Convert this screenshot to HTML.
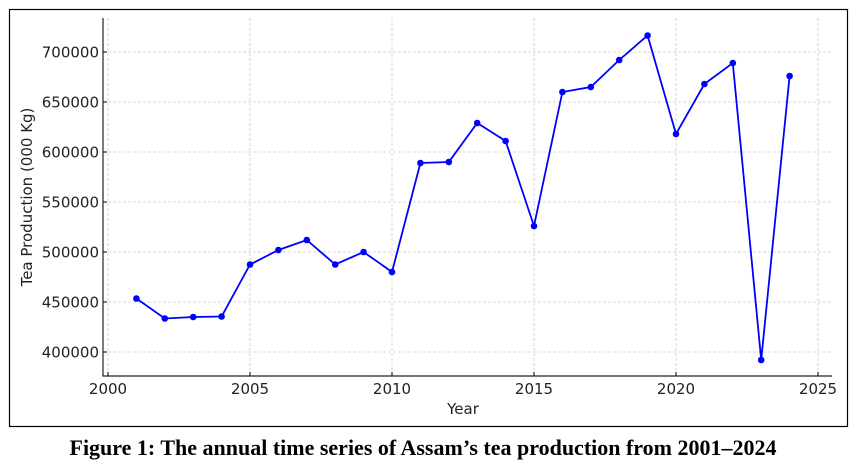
<!DOCTYPE html>
<html><head><style>body{margin:0;background:#fff;width:857px;height:468px;overflow:hidden}</style></head><body>
<svg width="857" height="468" xmlns="http://www.w3.org/2000/svg" font-family="DejaVu Sans, sans-serif">
<rect x="9.5" y="9.5" width="838" height="417" fill="none" stroke="#000" stroke-width="1.2"/>
<g stroke="#ccc" stroke-dasharray="3,2" stroke-width="0.8">
<line x1="108" y1="18" x2="108" y2="376"/><line x1="250" y1="18" x2="250" y2="376"/><line x1="392" y1="18" x2="392" y2="376"/><line x1="534" y1="18" x2="534" y2="376"/><line x1="676" y1="18" x2="676" y2="376"/><line x1="818" y1="18" x2="818" y2="376"/>
<line x1="103" y1="52" x2="832" y2="52"/><line x1="103" y1="102" x2="832" y2="102"/><line x1="103" y1="152" x2="832" y2="152"/><line x1="103" y1="202" x2="832" y2="202"/><line x1="103" y1="252" x2="832" y2="252"/><line x1="103" y1="302" x2="832" y2="302"/><line x1="103" y1="352" x2="832" y2="352"/>
</g>
<g stroke="#222" stroke-width="1.2">
<line x1="103" y1="18" x2="103" y2="376.5"/><line x1="102.5" y1="376" x2="832" y2="376"/>
<line x1="103" y1="52" x2="107" y2="52"/><line x1="103" y1="102" x2="107" y2="102"/><line x1="103" y1="152" x2="107" y2="152"/><line x1="103" y1="202" x2="107" y2="202"/><line x1="103" y1="252" x2="107" y2="252"/><line x1="103" y1="302" x2="107" y2="302"/><line x1="103" y1="352" x2="107" y2="352"/>
<line x1="108" y1="376" x2="108" y2="372"/><line x1="250" y1="376" x2="250" y2="372"/><line x1="392" y1="376" x2="392" y2="372"/><line x1="534" y1="376" x2="534" y2="372"/><line x1="676" y1="376" x2="676" y2="372"/><line x1="818" y1="376" x2="818" y2="372"/>
</g>
<g font-size="15" fill="#222" text-anchor="end">
<text x="99" y="57.5">700000</text><text x="99" y="107.5">650000</text><text x="99" y="157.5">600000</text><text x="99" y="207.5">550000</text><text x="99" y="257.5">500000</text><text x="99" y="307.5">450000</text><text x="99" y="357.5">400000</text>
</g>
<g font-size="15" fill="#222" text-anchor="middle">
<text x="108" y="394">2000</text><text x="250" y="394">2005</text><text x="392" y="394">2010</text><text x="534" y="394">2015</text><text x="676" y="394">2020</text><text x="818" y="394">2025</text>
<text x="463" y="414">Year</text>
<text transform="translate(32,197) rotate(-90)">Tea Production (000 Kg)</text>
</g>
<polyline fill="none" stroke="#0000ff" stroke-width="1.8" points="136.4,298.5 164.8,318.5 193.2,317 221.6,316.5 250,264.5 278.4,250 306.8,240 335.2,264.5 363.6,252 392,272 420.4,163 448.8,162 477.2,123 505.6,141 534,226 562.4,92 590.8,87 619.2,60 647.6,35.5 676,134 704.4,84 732.8,63 761.2,360 789.6,76"/>
<g fill="#0000ff">
<circle cx="136.4" cy="298.5" r="3.3"/><circle cx="164.8" cy="318.5" r="3.3"/><circle cx="193.2" cy="317" r="3.3"/><circle cx="221.6" cy="316.5" r="3.3"/><circle cx="250" cy="264.5" r="3.3"/><circle cx="278.4" cy="250" r="3.3"/><circle cx="306.8" cy="240" r="3.3"/><circle cx="335.2" cy="264.5" r="3.3"/><circle cx="363.6" cy="252" r="3.3"/><circle cx="392" cy="272" r="3.3"/><circle cx="420.4" cy="163" r="3.3"/><circle cx="448.8" cy="162" r="3.3"/><circle cx="477.2" cy="123" r="3.3"/><circle cx="505.6" cy="141" r="3.3"/><circle cx="534" cy="226" r="3.3"/><circle cx="562.4" cy="92" r="3.3"/><circle cx="590.8" cy="87" r="3.3"/><circle cx="619.2" cy="60" r="3.3"/><circle cx="647.6" cy="35.5" r="3.3"/><circle cx="676" cy="134" r="3.3"/><circle cx="704.4" cy="84" r="3.3"/><circle cx="732.8" cy="63" r="3.3"/><circle cx="761.2" cy="360" r="3.3"/><circle cx="789.6" cy="76" r="3.3"/>
</g>
<text x="423" y="455" text-anchor="middle" font-family="Liberation Serif, serif" font-weight="bold" font-size="22" textLength="707" lengthAdjust="spacingAndGlyphs" fill="#000">Figure 1: The annual time series of Assam’s tea production from 2001–2024</text>
</svg>
</body></html>
